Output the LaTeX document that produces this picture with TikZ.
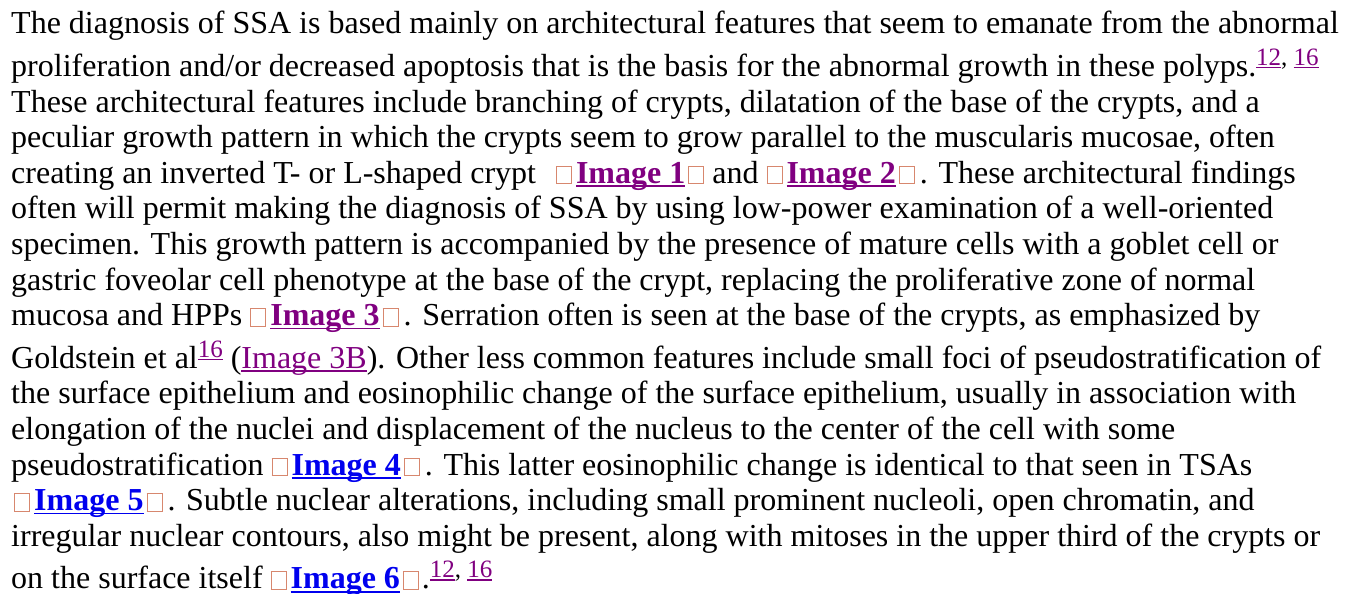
\documentclass[tikz,border=0pt]{standalone}
\usepackage{fontspec}
\setmainfont{Liberation Serif}

\definecolor{vislink}{HTML}{800080}
\definecolor{newlink}{HTML}{0000EE}
\definecolor{boxc}{HTML}{D7876E}

% underlined link text in a given colour
\newcommand{\ulnk}[2]{{\color{#1}\setbox0=\hbox{#2}\rlap{\rule[-3.6pt]{\wd0}{1.6pt}}\box0}}
% same, for the small reference numbers
\newcommand{\ulref}[1]{{\color{vislink}\setbox0=\hbox{#1}\rlap{\rule[-2.6pt]{\wd0}{1.2pt}}\box0}}
% empty glyph box
\newcommand{\gbox}{{\color{boxc}\setlength{\fboxsep}{0pt}\setlength{\fboxrule}{1pt}\fbox{\rule{0pt}{16.5pt}\hspace{14pt}}}}
% boxed image link
\newcommand{\imglink}[2]{\gbox\hspace{4pt}\ulnk{#1}{\textbf{#2}}\hspace{3pt}\gbox}
% reference numbers
\newcommand{\refsup}[1]{\raisebox{11pt}{\fontsize{25}{25}\selectfont#1}}

\begin{document}
\begin{tikzpicture}[x=1pt,y=-1pt,
    txt/.style={anchor=base west,inner sep=0pt,font=\fontsize{32}{36}\selectfont}]
    \useasboundingbox (0,0) rectangle (1355,594);

    % Paragraph, one node per line
    \node[txt] (l1) at (11,33.5) {The diagnosis of SSA is based mainly on architectural features that seem to emanate from the abnormal};
    \node[txt] (l2) at (11,76.5) {proliferation and/or decreased apoptosis that is the basis for the abnormal growth in these polyps.\refsup{\ulref{12}, \ulref{16}}};
    \node[txt] (l3) at (11,112.1) {These architectural features include branching of crypts, dilatation of the base of the crypts, and a};
    \node[txt] (l4) at (11,147.7) {peculiar growth pattern in which the crypts seem to grow parallel to the muscularis mucosae, often};
    \node[txt] (l5) at (11,183.3) {creating an inverted T- or L-shaped crypt\hspace{20pt}\imglink{vislink}{Image 1} and \imglink{vislink}{Image 2}\hspace{5pt}. These architectural findings};
    \node[txt] (l6) at (11,218.9) {often will permit making the diagnosis of SSA by using low-power examination of a well-oriented};
    \node[txt] (l7) at (11,254.5) {specimen. This growth pattern is accompanied by the presence of mature cells with a goblet cell or};
    \node[txt] (l8) at (11,290.1) {gastric foveolar cell phenotype at the base of the crypt, replacing the proliferative zone of normal};
    \node[txt] (l9) at (11,325.7) {mucosa and HPPs \imglink{vislink}{Image 3}\hspace{5pt}. Serration often is seen at the base of the crypts, as emphasized by};
    \node[txt] (l10) at (11,368.3) {Goldstein et al\refsup{\ulref{16}} (\ulnk{vislink}{Image 3B}). Other less common features include small foci of pseudostratification of};
    \node[txt] (l11) at (11,403.9) {the surface epithelium and eosinophilic change of the surface epithelium, usually in association with};
    \node[txt] (l12) at (11,439.5) {elongation of the nuclei and displacement of the nucleus to the center of the cell with some};
    \node[txt] (l13) at (11,475.1) {pseudostratification \imglink{newlink}{Image 4}\hspace{5pt}. This latter eosinophilic change is identical to that seen in TSAs};
    \node[txt] (l14) at (11,510.7) {\hspace{3pt}\imglink{newlink}{Image 5}\hspace{5pt}. Subtle nuclear alterations, including small prominent nucleoli, open chromatin, and};
    \node[txt] (l15) at (11,546.3) {irregular nuclear contours, also might be present, along with mitoses in the upper third of the crypts or};
    \node[txt] (l16) at (11,588.9) {on the surface itself \imglink{newlink}{Image 6}\hspace{3pt}.\refsup{\ulref{12}, \ulref{16}}};
\end{tikzpicture}
\end{document}
